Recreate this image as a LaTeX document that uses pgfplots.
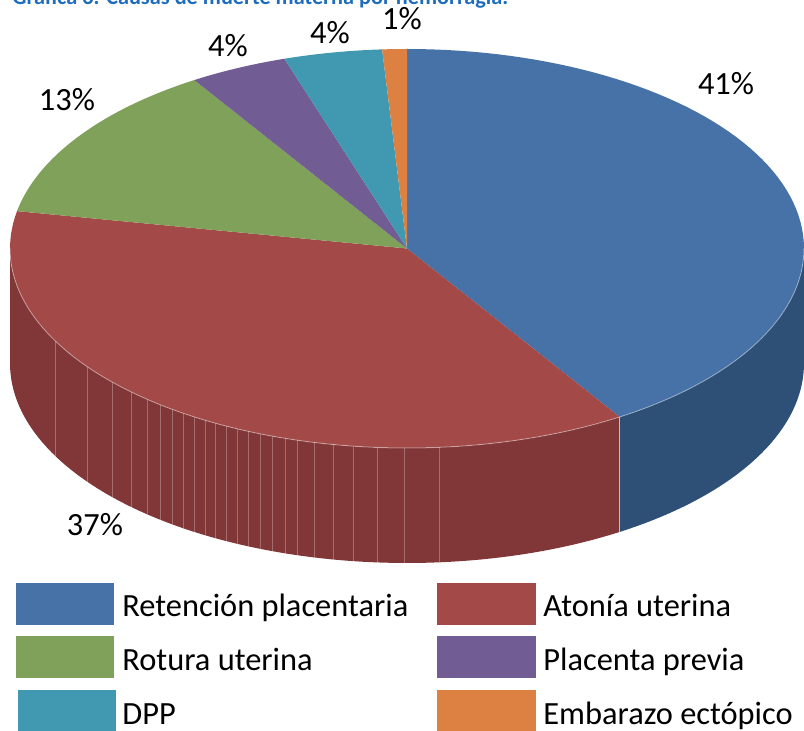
\documentclass[border=0pt]{standalone}
\usepackage{graphicx}
\usepackage{pgfplots}
\pgfplotsset{compat=1.18}
\usepackage{pgfplotstable}
\usepackage{fontspec}
\setmainfont{Carlito}
\definecolor{cBlue}{RGB}{70,114,167}
\definecolor{cBlueS}{RGB}{46,80,118}
\definecolor{cRed}{RGB}{163,74,73}
\definecolor{cRedS}{RGB}{129,54,55}
\definecolor{cGreen}{RGB}{127,161,89}
\definecolor{cPurple}{RGB}{113,92,148}
\definecolor{cTeal}{RGB}{65,152,177}
\definecolor{cOrange}{RGB}{221,129,66}
\definecolor{cTitle}{RGB}{30,108,190}
\newcommand\lbl{\fontsize{16.2pt}{19pt}\selectfont}

\pgfplotstableread{
idx value
0 41
1 37
2 13
3 4
4 4
5 1
}\piedata

\begin{document}
\begin{tikzpicture}
\pgfplotstablegetelem{0}{value}\of\piedata \let\vA\pgfplotsretval
\pgfplotstablegetelem{1}{value}\of\piedata \let\vB\pgfplotsretval
\pgfplotstablegetelem{2}{value}\of\piedata \let\vC\pgfplotsretval
\pgfplotstablegetelem{3}{value}\of\piedata \let\vD\pgfplotsretval
\pgfplotstablegetelem{4}{value}\of\piedata \let\vE\pgfplotsretval
\pgfplotstablegetelem{5}{value}\of\piedata \let\vF\pgfplotsretval
\pgfmathsetmacro\aA{90}
\pgfmathsetmacro\aB{\aA-3.6*\vA}
\pgfmathsetmacro\aC{\aB-3.6*\vB}
\pgfmathsetmacro\aD{\aC-3.6*\vC}
\pgfmathsetmacro\aE{\aD-3.6*\vD}
\pgfmathsetmacro\aF{\aE-3.6*\vE}
\pgfmathsetmacro\aG{\aF-3.6*\vF}
\def\pcx{407}\def\pcy{248.5}\def\prx{397}\def\pry{199.5}\def\pdd{115}
\path[use as bounding box] (0,0) rectangle (402pt,365.5pt);
\clip (0,0) rectangle (402pt,365.5pt);
\begin{axis}[at={(0,0)},anchor=south west,width=402pt,height=365.5pt,scale only axis,
  xmin=0,xmax=804,ymin=0,ymax=731,y dir=reverse,hide axis,clip=false]
% side faces
\fill[cBlueS] plot[domain=0:\aB,samples=40,variable=\t] ({\pcx+\prx*cos(\t)},{\pcy-\pry*sin(\t)})
   -- plot[domain=\aB:0,samples=40,variable=\t] ({\pcx+\prx*cos(\t)},{\pcy-\pry*sin(\t)+\pdd}) -- cycle;
\fill[cRedS] plot[domain=\aB:-180,samples=80,variable=\t] ({\pcx+\prx*cos(\t)},{\pcy-\pry*sin(\t)})
   -- plot[domain=-180:\aB,samples=80,variable=\t] ({\pcx+\prx*cos(\t)},{\pcy-\pry*sin(\t)+\pdd}) -- cycle;
% stripes on red side
\pgfplotsinvokeforeach{55,87,112,131,147,160,172,183,194,205,215,226,237,248,260,272,285,297,314,333,353,377,404,439}{
  \draw[white,opacity=0.28,line width=0.5pt] (#1,{\pcy+\pry*sqrt(1-((#1-\pcx)/\prx)^2)}) -- (#1,{\pcy+\pry*sqrt(1-((#1-\pcx)/\prx)^2)+\pdd});
}
\draw[cBlue!45!white,line width=0.5pt] ({\pcx+\prx*cos(\aB)},{\pcy-\pry*sin(\aB)}) -- ({\pcx+\prx*cos(\aB)},{\pcy-\pry*sin(\aB)+\pdd});
% top faces
\fill[cBlue] (\pcx,\pcy) -- plot[domain=\aA:\aB,samples=80,variable=\t] ({\pcx+\prx*cos(\t)},{\pcy-\pry*sin(\t)}) -- cycle;
\fill[cRed] (\pcx,\pcy) -- plot[domain=\aB:\aC,samples=80,variable=\t] ({\pcx+\prx*cos(\t)},{\pcy-\pry*sin(\t)}) -- cycle;
\fill[cGreen] (\pcx,\pcy) -- plot[domain=\aC:\aD,samples=40,variable=\t] ({\pcx+\prx*cos(\t)},{\pcy-\pry*sin(\t)}) -- cycle;
\fill[cPurple] (\pcx,\pcy) -- plot[domain=\aD:\aE,samples=20,variable=\t] ({\pcx+\prx*cos(\t)},{\pcy-\pry*sin(\t)}) -- cycle;
\fill[cTeal] (\pcx,\pcy) -- plot[domain=\aE:\aF,samples=20,variable=\t] ({\pcx+\prx*cos(\t)},{\pcy-\pry*sin(\t)}) -- cycle;
\fill[cOrange] (\pcx,\pcy) -- plot[domain=\aF:\aG,samples=10,variable=\t] ({\pcx+\prx*cos(\t)},{\pcy-\pry*sin(\t)}) -- cycle;
\draw[white,opacity=0.35,line width=0.5pt] plot[domain=0:-180,samples=100,variable=\t] ({\pcx+\prx*cos(\t)},{\pcy-\pry*sin(\t)});
% percentage labels
\node[font=\lbl,anchor=base,inner sep=0pt] at (726,95) {\vA\%};
\node[font=\lbl,anchor=base,inner sep=0pt] at (95,536) {\vB\%};
\node[font=\lbl,anchor=base,inner sep=0pt] at (67,111) {\vC\%};
\node[font=\lbl,anchor=base,inner sep=0pt] at (228,57) {\vD\%};
\node[font=\lbl,anchor=base,inner sep=0pt] at (330,44) {\vE\%};
\node[font=\lbl,anchor=base,inner sep=0pt] at (402,30) {\vF\%};
% title (cut off at the top)
\node[anchor=base west,inner sep=0pt,text=cTitle] at (12,5) {\resizebox{248pt}{!}{\bfseries Gráfica 6. Causas de muerte materna por hemorragia.}};
% legend
\fill[cBlue] (16,583) rectangle (114,625);
\fill[cRed] (437,583) rectangle (536,625);
\fill[cGreen] (16,636) rectangle (114,678);
\fill[cPurple] (437,636) rectangle (536,678);
\fill[cTeal] (18,690) rectangle (116,731);
\fill[cOrange] (437,690) rectangle (536,731);
\node[font=\lbl,anchor=base west,inner sep=0pt] at (122,617) {Retención placentaria};
\node[font=\lbl,anchor=base west,inner sep=0pt] at (543,617) {Atonía uterina};
\node[font=\lbl,anchor=base west,inner sep=0pt] at (122,671) {Rotura uterina};
\node[font=\lbl,anchor=base west,inner sep=0pt] at (543,671) {Placenta previa};
\node[font=\lbl,anchor=base west,inner sep=0pt] at (122,725) {DPP};
\node[font=\lbl,anchor=base west,inner sep=0pt] at (543,725) {Embarazo ectópico};
\end{axis}
\end{tikzpicture}
\end{document}
